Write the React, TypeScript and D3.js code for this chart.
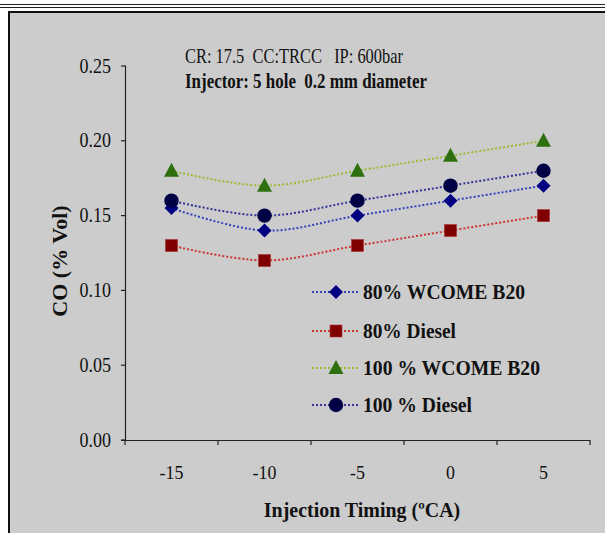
import React from "react";
import * as d3 from "d3";

const categories = ["-15", "-10", "-5", "0", "5"];
const yTicks = [0, 0.05, 0.1, 0.15, 0.2, 0.25];
const seriesNames = ["80% WCOME B20", "80% Diesel", "100 % WCOME B20", "100 % Diesel"];
const wcome80 = [0.155, 0.14, 0.15, 0.16, 0.17];
const diesel80 = [0.13, 0.12, 0.13, 0.14, 0.15];
const wcome100 = [0.18, 0.17, 0.18, 0.19, 0.2];
const diesel100 = [0.16, 0.15, 0.16, 0.17, 0.18];

const FONT = "'Liberation Serif', 'Times New Roman', serif";

const styles = [
  { line: "#3344bb", fill: "#000080", shape: "diamond" },
  { line: "#cc3333", fill: "#800000", shape: "square" },
  { line: "#99bb33", fill: "#2e7010", shape: "triangle" },
  { line: "#333399", fill: "#000045", shape: "circle" },
];

function Marker({ x, y, shape, fill }: { x: number; y: number; shape: string; fill: string }) {
  if (shape === "diamond") {
    const s = 7;
    return <path d={`M${x},${y - s}L${x + s},${y}L${x},${y + s}L${x - s},${y}Z`} fill={fill} />;
  }
  if (shape === "square") {
    const s = 6;
    return <rect x={x - s} y={y - s} width={2 * s} height={2 * s} fill={fill} stroke="#aa3333" strokeWidth={0.6} />;
  }
  if (shape === "triangle") {
    return <path d={`M${x},${y - 8}L${x + 7.5},${y + 6}L${x - 7.5},${y + 6}Z`} fill={fill} />;
  }
  return <circle cx={x} cy={y} r={7.2} fill={fill} />;
}

export default function App() {
  const W = 605, H = 533;
  const x = d3.scaleBand<string>().domain(categories).range([125, 590]).paddingInner(0).paddingOuter(0);
  const y = d3.scaleLinear().domain([0, 0.25]).range([440, 66]);
  const cx = (c: string) => (x(c) as number) + x.bandwidth() / 2;
  const all = [wcome80, diesel80, wcome100, diesel100];
  const line = d3
    .line<number>()
    .x((_, i) => cx(categories[i]))
    .y((d) => y(d))
    .curve(d3.curveCatmullRom.alpha(0.5));
  const xTickPos = [...categories.map((c) => x(c) as number), 590];
  const legendY = [292, 331, 368, 405];
  const legendW = [162, 93, 177, 109];

  return (
    <svg width={W} height={H} style={{ position: "absolute", left: 0, top: 0, display: "block" }} fontFamily={FONT}>
      <rect x={0} y={0} width={W} height={H} fill="#ffffff" />
      <line x1={0} x2={W} y1={4.5} y2={4.5} stroke="#222" strokeWidth={1.2} />
      <line x1={0} x2={W} y1={7.5} y2={7.5} stroke="#222" strokeWidth={1.2} />
      <rect x={9} y={12} width={W + 20} height={H + 20} fill="#cccccc" stroke="#111" strokeWidth={2} />

      <text x={185} y={63} fontSize={21} fill="#111" xmlSpace="preserve" textLength={218} lengthAdjust="spacingAndGlyphs">
        {"CR: 17.5  CC:TRCC   IP: 600bar"}
      </text>
      <text x={185} y={88} fontSize={21} fontWeight="bold" fill="#111" xmlSpace="preserve" textLength={242} lengthAdjust="spacingAndGlyphs">
        {"Injector: 5 hole  0.2 mm diameter"}
      </text>

      {/* axes */}
      <line x1={125.5} x2={125.5} y1={y(0.25)} y2={440} stroke="#222" strokeWidth={1.2} />
      <line x1={121} x2={590} y1={440.5} y2={440.5} stroke="#222" strokeWidth={1.2} />
      {yTicks.map((t) => (
        <g key={t}>
          <line x1={121} x2={126} y1={y(t)} y2={y(t)} stroke="#222" strokeWidth={1.2} />
          <text
            transform={`translate(111,${y(t)}) scale(0.9,1)`}
            dy="0.33em"
            textAnchor="end"
            fontSize={20}
            fill="#111"
          >
            {t.toFixed(2)}
          </text>
        </g>
      ))}
      {xTickPos.map((p, i) => (
        <line key={i} x1={p} x2={p} y1={440} y2={445} stroke="#222" strokeWidth={1.2} />
      ))}
      {categories.map((c) => (
        <text key={c} transform={`translate(${cx(c)},479) scale(0.92,1)`} textAnchor="middle" fontSize={19.5} fill="#111">
          {c}
        </text>
      ))}
      <text transform="translate(362,517) scale(0.95,1)" textAnchor="middle" fontSize={21} fontWeight="bold" fill="#111">
        Injection Timing (ºCA)
      </text>
      <text transform="translate(67,261) rotate(-90)" textAnchor="middle" fontSize={22} fontWeight="bold" fill="#111">
        CO (% Vol)
      </text>

      {/* series */}
      {all.map((vals, si) => (
        <path
          key={"l" + si}
          d={line(vals) || ""}
          fill="none"
          stroke={styles[si].line}
          strokeWidth={2}
          strokeDasharray="2,2"
        />
      ))}
      {all.map((vals, si) =>
        vals.map((v, i) => (
          <Marker key={si + "-" + i} x={cx(categories[i])} y={y(v)} shape={styles[si].shape} fill={styles[si].fill} />
        ))
      )}

      {/* legend */}
      {seriesNames.map((n, i) => (
        <g key={n}>
          <line x1={312} x2={358} y1={legendY[i]} y2={legendY[i]} stroke={styles[i].line} strokeWidth={2} strokeDasharray="2,2" />
          <Marker x={336} y={legendY[i]} shape={styles[i].shape} fill={styles[i].fill} />
          <text
            x={363}
            y={legendY[i]}
            dy="0.35em"
            fontSize={21}
            fontWeight="bold"
            fill="#111"
            textLength={legendW[i]}
            lengthAdjust="spacingAndGlyphs"
          >
            {n}
          </text>
        </g>
      ))}
    </svg>
  );
}
